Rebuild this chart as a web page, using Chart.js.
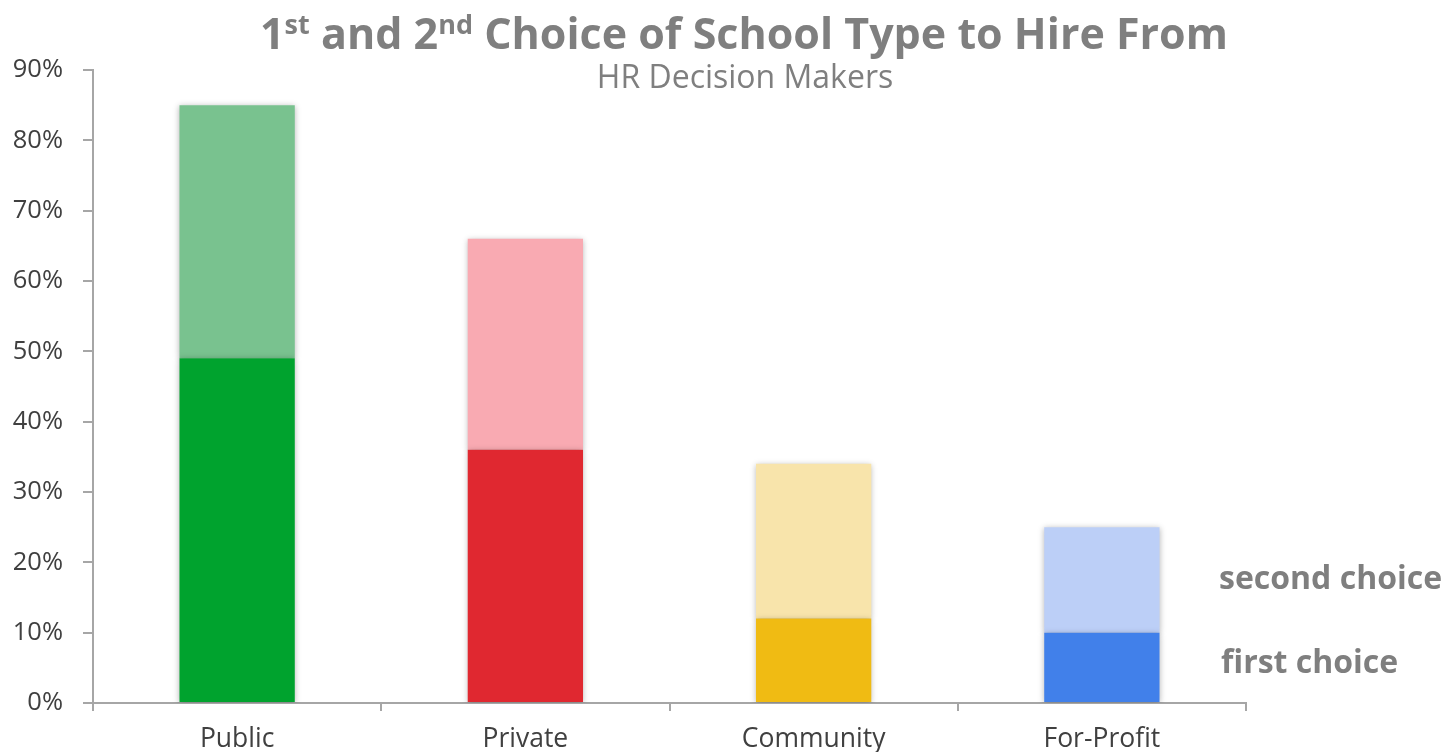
<!DOCTYPE html>
<html lang="en">
<head>
  <meta charset="UTF-8" />
  <title>School Type Choice</title>
  <script src="https://cdn.jsdelivr.net/npm/chart.js"></script>
  <style>
    html, body { margin: 0; padding: 0; background: #fff; }
    #wrap { width: 1445px; height: 752px; position: relative; }
  </style>
</head>
<body>
  <div id="wrap"><canvas id="choiceChart"></canvas></div>

  <script>
    const schoolTypes = ["Public", "Private", "Community", "For-Profit"];
    const firstChoice = [49, 36, 12, 10];
    const secondChoice = [36, 30, 22, 15];
    const firstColors = ["#00a32e", "#e02830", "#f0bb13", "#4180ea"];
    const secondColors = ["#79c28f", "#f9aab2", "#f8e4ab", "#bccff7"];
    const yTicks = [0, 10, 20, 30, 40, 50, 60, 70, 80, 90];

    const FONT = "'Open Sans', 'Noto Sans', sans-serif";
    const GREY = "#7f7f7f";

    // soft shadow under the bars
    const barShadow = {
      id: "barShadow",
      beforeDatasetsDraw(chart) {
        const ctx = chart.ctx;
        ctx.save();
        ctx.shadowColor = "rgba(0,0,0,0.28)";
        ctx.shadowBlur = 6;
        ctx.shadowOffsetX = 0;
        ctx.shadowOffsetY = 1;
      },
      afterDatasetsDraw(chart) {
        chart.ctx.restore();
      }
    };

    // title with superscript ordinals, plus subtitle
    const titleBlock = {
      id: "titleBlock",
      afterDraw(chart) {
        const ctx = chart.ctx;
        const parts = [
          ["1", false], ["st", true], [" and 2", false], ["nd", true],
          [" Choice of School Type to Hire From", false]
        ];
        const big = "bold 43px " + FONT;
        const small = "bold 27px " + FONT;
        ctx.save();
        ctx.fillStyle = GREY;
        ctx.textBaseline = "alphabetic";
        ctx.textAlign = "left";
        let total = 0;
        parts.forEach(([t, sup]) => {
          ctx.font = sup ? small : big;
          total += ctx.measureText(t).width;
        });
        let x = 744 - total / 2;
        parts.forEach(([t, sup]) => {
          ctx.font = sup ? small : big;
          ctx.fillText(t, x, sup ? 34 : 49);
          x += ctx.measureText(t).width;
        });
        ctx.font = "32px " + FONT;
        ctx.textAlign = "center";
        ctx.fillText("HR Decision Makers", 745, 88);
        ctx.restore();
      }
    };

    // series names next to the last bar, placed at its segment midpoints
    const sideLabels = {
      id: "sideLabels",
      afterDraw(chart) {
        const ctx = chart.ctx;
        const y = chart.scales.y;
        const i = schoolTypes.length - 1;
        ctx.save();
        ctx.font = "bold 32px " + FONT;
        ctx.fillStyle = GREY;
        ctx.textAlign = "left";
        ctx.textBaseline = "middle";
        ctx.fillText("second choice", 1219, y.getPixelForValue(firstChoice[i] + secondChoice[i] / 2));
        ctx.fillText("first choice", 1221, y.getPixelForValue(firstChoice[i] / 2) - 4);
        ctx.restore();
      }
    };

    const ctx = document.getElementById("choiceChart").getContext("2d");
    new Chart(ctx, {
      type: "bar",
      data: {
        labels: schoolTypes,
        datasets: [
          {
            label: "first choice",
            data: firstChoice,
            backgroundColor: firstColors,
            borderWidth: 0
          },
          {
            label: "second choice",
            data: secondChoice,
            backgroundColor: secondColors,
            borderWidth: 0
          }
        ]
      },
      options: {
        responsive: true,
        maintainAspectRatio: false,
        animation: false,
        layout: { padding: { top: 70, right: 199, left: 0, bottom: 0 } },
        plugins: {
          legend: { display: false },
          title: { display: false },
          tooltip: { enabled: false }
        },
        datasets: { bar: { categoryPercentage: 0.4, barPercentage: 1 } },
        scales: {
          x: {
            stacked: true,
            afterFit(scale) { scale.height = 49; },
            border: { color: "#a6a6a6", width: 2 },
            grid: { drawOnChartArea: false, color: "#a6a6a6", lineWidth: 2, tickLength: 8 },
            ticks: { color: "#404040", font: { family: FONT, size: 26.5 }, padding: 13 }
          },
          y: {
            stacked: true,
            min: 0,
            max: 90,
            afterFit(scale) { scale.width = 93; },
            afterBuildTicks(scale) { scale.ticks = yTicks.map(v => ({ value: v })); },
            border: { color: "#a6a6a6", width: 2 },
            grid: { drawOnChartArea: false, color: "#a6a6a6", lineWidth: 2, tickLength: 10 },
            ticks: {
              color: "#404040",
              font: { family: FONT, size: 25.5 },
              padding: 20,
              callback: v => v + "%"
            }
          }
        }
      },
      plugins: [barShadow, titleBlock, sideLabels]
    });
  </script>
</body>
</html>
